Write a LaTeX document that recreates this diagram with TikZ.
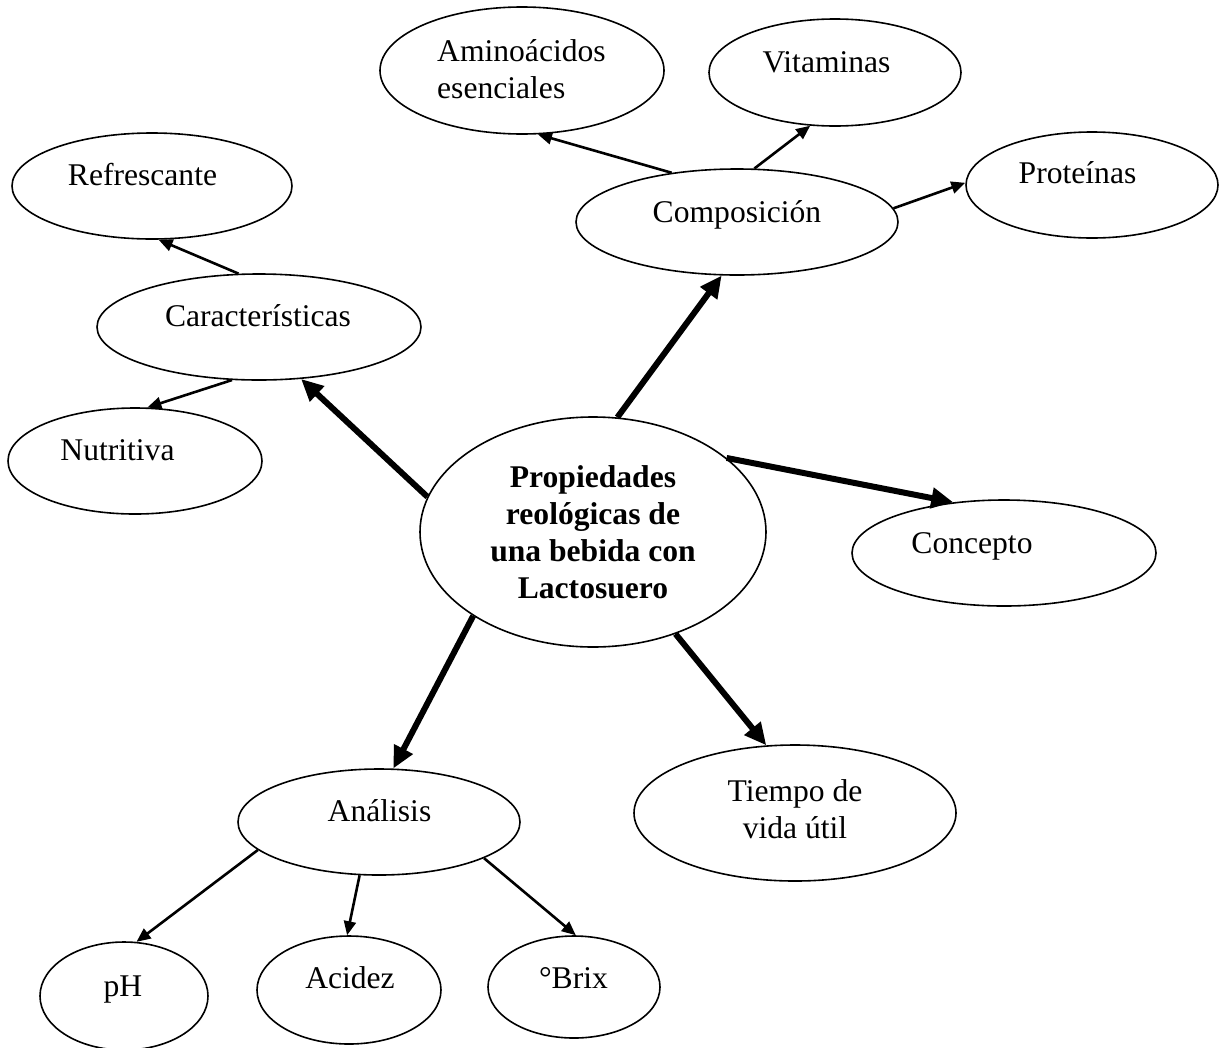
\documentclass[tikz,border=0pt]{standalone}
\usepackage{fontspec}
\setmainfont{Liberation Serif}
\usetikzlibrary{arrows.meta,shapes.geometric}
\begin{document}
\begin{tikzpicture}[x=1pt,y=-1pt,
  bubble/.style={draw, ellipse, line width=1.6pt, inner sep=0pt},
  lbl/.style={inner sep=0pt, font=\fontsize{31.6}{37}\selectfont},
  linkthin/.style={line width=2.6pt, -{Triangle[length=14pt,width=12pt]}},
  linkbold/.style={line width=6pt, -{Triangle[length=22pt,width=20pt]}}]
\useasboundingbox (0,0) rectangle (1222,1047);

% ellipses
\node[bubble, minimum width=346pt, minimum height=230pt] (cen) at (593,532) {};
\node[bubble, minimum width=322pt, minimum height=106pt] (comp) at (737,222) {};
\node[bubble, minimum width=284pt, minimum height=127pt] (amino) at (522,70.5) {};
\node[bubble, minimum width=252pt, minimum height=107pt] (vit) at (835,72.5) {};
\node[bubble, minimum width=252pt, minimum height=106pt] (prot) at (1092,185) {};
\node[bubble, minimum width=324pt, minimum height=106pt] (car) at (259,327) {};
\node[bubble, minimum width=280pt, minimum height=106pt] (ref) at (152,186) {};
\node[bubble, minimum width=254pt, minimum height=106pt] (nut) at (135,461) {};
\node[bubble, minimum width=304pt, minimum height=106pt] (conc) at (1004,553) {};
\node[bubble, minimum width=322pt, minimum height=136pt] (tiem) at (795,813) {};
\node[bubble, minimum width=282pt, minimum height=106pt] (ana) at (379,822) {};
\node[bubble, minimum width=168pt, minimum height=108pt] (ph) at (124,996) {};
\node[bubble, minimum width=184pt, minimum height=108pt] (aci) at (349,990) {};
\node[bubble, minimum width=172pt, minimum height=102pt] (brix) at (574,987) {};

% texts
\node[lbl, font=\fontsize{31.6}{37}\selectfont\bfseries, align=center] (tcen) at (593,532)
  {Propiedades\\reológicas de\\una bebida con\\Lactosuero};
\node[lbl, anchor=base] (tcomp) at (737,222) {Composición};
\node[lbl, anchor=west, align=left] (tamino) at (437,69.2) {Aminoácidos\\esenciales};
\node[lbl, anchor=base] (tvit) at (826.5,72) {Vitaminas};
\node[lbl, anchor=base] (tprot) at (1077.5,183) {Proteínas};
\node[lbl, anchor=base] (tcar) at (258,326) {Características};
\node[lbl, anchor=base] (tref) at (142.5,185) {Refrescante};
\node[lbl, anchor=base] (tnut) at (117.5,460) {Nutritiva};
\node[lbl, anchor=base] (tconc) at (972,553) {Concepto};
\node[lbl, align=center] (ttiem) at (795,809.2) {Tiempo de\\vida útil};
\node[lbl, anchor=base] (tana) at (379.5,821) {Análisis};
\node[lbl, anchor=base] (tph) at (123,996) {pH};
\node[lbl, anchor=base] (taci) at (350,988) {Acidez};
\node[lbl, anchor=base] (tbrix) at (573.5,988) {°Brix};

% connectors from the central topic
\draw[linkbold] (cen.168.2) -- (car.309.9);
\draw[linkbold] (cen.78.8) -- (comp.254.7);
\draw[linkbold] (cen.29.6) -- (conc.135.5);
\draw[linkbold] (cen.309.7) -- (tiem.113.8);
\draw[linkbold] (cen.215.3) -- (ana.75.7);

% secondary connectors
\draw[linkthin] (comp.143.3) -- (amino.284.7);
\draw[linkthin] (comp.72.5) -- (vit.245.8);
\draw[linkthin] (comp.5.8) -- (prot.179);
\draw[linkthin] (car.111) -- (ref.277.5);
\draw[linkthin] (car.243.9) -- (nut.77.2);
\draw[linkthin] (ana.193.4) -- (ph.77.2);
\draw[linkthin] (ana.250.6) -- (aci.92.1);
\draw[linkthin] (ana.341.2) -- (brix.88.9);
\end{tikzpicture}
\end{document}
